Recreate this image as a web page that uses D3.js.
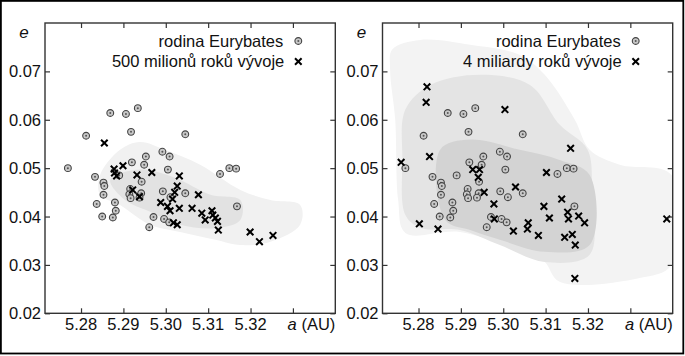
<!DOCTYPE html>
<html><head><meta charset="utf-8">
<script src="https://cdn.jsdelivr.net/npm/d3@7"></script>
<style>body{margin:0;background:#fff}svg{display:block}text{font-family:"Liberation Sans",Arial,sans-serif;fill:#111}</style>
</head><body><svg id="c" width="685" height="356"></svg>
<script>
// Eurybates family members (same in both panels): [a (AU), e]
const familyA = [5.2769,5.2812,5.2869,5.2906,5.2934,5.2918,5.3046,5.2992,5.3009,5.2953,5.2920,5.2949,5.3005,5.3128,5.3150,5.3166,5.2833,5.2853,5.2855,5.2853,5.2837,5.2850,5.2880,5.2882,5.2875,5.2890,5.2916,5.2914,5.2917,5.2942,5.2938,5.2943,5.2961,5.2971,5.2993,5.2996,5.3008,5.3046,5.3168,5.3011];
const familyE = [0.0500,0.0567,0.0614,0.0612,0.0624,0.0575,0.0570,0.0534,0.0524,0.0524,0.0512,0.0507,0.0497,0.0488,0.0500,0.0499,0.0482,0.0470,0.0463,0.0445,0.0426,0.0400,0.0429,0.0412,0.0398,0.0485,0.0457,0.0446,0.0438,0.0448,0.0439,0.0472,0.0378,0.0399,0.0452,0.0395,0.0388,0.0448,0.0421,0.0440];
// after 500 Myr
const evo1A = [5.2855,5.2878,5.2899,5.2879,5.2884,5.2932,5.2967,5.2922,5.2938,5.2988,5.3004,5.3010,5.3016,5.3021,5.3027,5.3032,5.3032,5.3062,5.3077,5.3018,5.3027,5.3085,5.3093,5.3109,5.3111,5.3117,5.3122,5.3124,5.3199,5.3221,5.3253];
const evo1E = [0.0552,0.0498,0.0505,0.0490,0.0484,0.0486,0.0491,0.0455,0.0441,0.0429,0.0421,0.0412,0.0436,0.0450,0.0463,0.0484,0.0417,0.0417,0.0445,0.0387,0.0383,0.0407,0.0393,0.0412,0.0403,0.0397,0.0390,0.0372,0.0368,0.0348,0.0361];
// after 4 Gyr
const evo2A = [5.2759,5.2820,5.2818,5.2826,5.3004,5.3159,5.3102,5.2928,5.2944,5.2941,5.2955,5.2978,5.2979,5.3029,5.3024,5.3059,5.3057,5.3083,5.3096,5.3109,5.3138,5.3152,5.3154,5.3145,5.3163,5.3170,5.3178,5.3192,5.3169,5.3386,5.2802,5.2846];
const evo2E = [0.0512,0.0668,0.0636,0.0524,0.0621,0.0541,0.0491,0.0497,0.0497,0.0481,0.0450,0.0426,0.0395,0.0461,0.0370,0.0387,0.0374,0.0361,0.0421,0.0397,0.0436,0.0409,0.0395,0.0357,0.0363,0.0341,0.0401,0.0387,0.0272,0.0395,0.0385,0.0374];
// gray cloud of simulated orbits (outlines), [a, e] vertices
const cloud1Light = [[5.2845,0.0486],[5.2892,0.0538],[5.2939,0.0554],[5.2998,0.0538],[5.3081,0.0507],[5.3176,0.0455],[5.3247,0.0434],[5.3317,0.0424],[5.3317,0.0383],[5.3247,0.0348],[5.3176,0.0341],[5.3117,0.0352],[5.3034,0.0368],[5.2963,0.0383],[5.2892,0.0424],[5.2845,0.0445]];
const cloud1Mid = [[5.2869,0.0476],[5.2939,0.0497],[5.3022,0.0480],[5.3105,0.0445],[5.3176,0.0434],[5.3176,0.0393],[5.3117,0.0376],[5.3034,0.0383],[5.2963,0.0410],[5.2904,0.0434]];
const cloud2Light = [[5.2738,0.0745],[5.2804,0.0765],[5.2922,0.0755],[5.3039,0.0734],[5.3098,0.0693],[5.3169,0.0600],[5.3204,0.0538],[5.3275,0.0507],[5.3397,0.0486],[5.3397,0.0300],[5.3322,0.0273],[5.3133,0.0265],[5.3098,0.0306],[5.3063,0.0321],[5.2898,0.0368],[5.2769,0.0366],[5.2752,0.0434],[5.2745,0.0600],[5.2733,0.0703]];
const cloud2Mid = [[5.2769,0.0621],[5.2828,0.0672],[5.2945,0.0693],[5.3063,0.0672],[5.3133,0.0590],[5.3199,0.0538],[5.3209,0.0445],[5.3204,0.0321],[5.3098,0.0306],[5.2992,0.0341],[5.2898,0.0372],[5.2804,0.0377],[5.2769,0.0403],[5.2762,0.0517]];
const cloud2Dense = [[5.2851,0.0538],[5.2922,0.0559],[5.3039,0.0538],[5.3133,0.0517],[5.3204,0.0486],[5.3204,0.0341],[5.3098,0.0327],[5.2992,0.0352],[5.2922,0.0372],[5.2863,0.0393]];
const xTicks = [5.28,5.29,5.30,5.31,5.32,5.33];
const xTickLabels = ["5.28","5.29","5.30","5.31","5.32",""];
const yTicks = [0.02,0.03,0.04,0.05,0.06,0.07];
const legend1 = ["rodina Eurybates","500 milionů roků vývoje"];
const legend2 = ["rodina Eurybates","4 miliardy roků vývoje"];

const svg = d3.select("#c");
svg.append("rect").attr("x",0.9).attr("y",0.9).attr("width",682.4).attr("height",352.6)
  .attr("fill","#fff").attr("stroke","#000").attr("stroke-width",1.8);

function panel(left, right, evoA, evoE, clouds, legend){
  const top=23, bottom=313.3;
  const x = d3.scaleLinear().domain([5.2715,5.34]).range([left,right]);
  const y = d3.scaleLinear().domain([0.02,0.08]).range([bottom,top]);
  const g = svg.append("g");
  const clip = "clip"+Math.round(left);
  g.append("clipPath").attr("id",clip).append("rect").attr("x",left).attr("y",top).attr("width",right-left).attr("height",bottom-top);
  const cg = g.append("g").attr("clip-path","url(#"+clip+")");
  const line = d3.line().x(d=>x(d[0])).y(d=>y(d[1])).curve(d3.curveCatmullRomClosed.alpha(0.5));
  clouds.forEach(c=>{
    cg.append("path").attr("d",line(c.pts)).attr("fill",c.col).attr("stroke","none");
  });
  // axes (ticks inside, mirrored)
  const fmt=()=> "";
  g.append("g").attr("transform",`translate(0,${bottom})`).call(d3.axisBottom(x).tickValues(xTicks).tickSize(-5).tickFormat(fmt));
  g.append("g").attr("transform",`translate(0,${top})`).call(d3.axisTop(x).tickValues(xTicks).tickSize(-5).tickFormat(fmt));
  g.append("g").attr("transform",`translate(${left},0)`).call(d3.axisLeft(y).tickValues(yTicks).tickSize(-5).tickFormat(fmt));
  g.append("g").attr("transform",`translate(${right},0)`).call(d3.axisRight(y).tickValues(yTicks).tickSize(-5).tickFormat(fmt));
  g.selectAll(".domain").remove();
  g.selectAll(".tick line").attr("stroke","#333").attr("stroke-width",1.2);
  g.append("rect").attr("x",left).attr("y",top).attr("width",right-left).attr("height",bottom-top)
    .attr("fill","none").attr("stroke","#333").attr("stroke-width",1.4);
  // tick labels
  g.selectAll(".xl").data(xTicks).enter().append("text").attr("x",d=>x(d)).attr("y",330)
    .attr("text-anchor","middle").attr("font-size",16.5).text((d,i)=>xTickLabels[i]);
  g.selectAll(".yl").data(yTicks).enter().append("text").attr("x",left-4).attr("y",d=>y(d)+6)
    .attr("text-anchor","end").attr("font-size",16.5).text(d=>d.toFixed(2));
  const at = g.append("text").attr("x",right).attr("y",330).attr("text-anchor","end").attr("font-size",16.5);
  at.append("tspan").attr("font-style","italic").text("a");
  at.append("tspan").text(" (AU)");
  g.append("text").attr("x",left-21).attr("y",38).attr("text-anchor","middle").attr("font-size",17).attr("font-style","italic").text("e");
  // family circles
  const fam = familyA.map((a,i)=>[a,familyE[i]]);
  const circ = (sel)=>{
    sel.append("circle").attr("r",3.4).attr("fill","#c8c8c8").attr("stroke","#444").attr("stroke-width",1.1);
    sel.append("circle").attr("r",1).attr("fill","#555");
  };
  cg.selectAll(".fam").data(fam).enter().append("g").attr("transform",d=>`translate(${x(d[0])},${y(d[1])})`).call(circ);
  const evo = evoA.map((a,i)=>[a,evoE[i]]);
  const cross = (sel)=>{
    sel.append("path").attr("d","M-3.3,-3.3L3.3,3.3M-3.3,3.3L3.3,-3.3").attr("stroke","#000").attr("stroke-width",2).attr("fill","none");
  };
  cg.selectAll(".evo").data(evo).enter().append("g").attr("transform",d=>`translate(${x(d[0])},${y(d[1])})`).call(cross);
  // legend
  const tx = right-52, sx = right-37;
  g.append("text").attr("x",tx).attr("y",47).attr("text-anchor","end").attr("font-size",16.5).text(legend[0]);
  g.append("text").attr("x",tx+1).attr("y",67).attr("text-anchor","end").attr("font-size",16.5).text(legend[1]);
  g.append("g").attr("transform",`translate(${sx},41)`).call(circ);
  g.append("g").attr("transform",`translate(${sx},61.5)`).call(cross);
}
panel(45,335.3,evo1A,evo1E,[{pts:cloud1Light,col:"#f1f1f1"},{pts:cloud1Mid,col:"#e2e2e2"}],legend1);
panel(382.5,672.7,evo2A,evo2E,[{pts:cloud2Light,col:"#f3f3f3"},{pts:cloud2Mid,col:"#e4e4e4"},{pts:cloud2Dense,col:"#d3d3d3"}],legend2);
</script></body></html>
